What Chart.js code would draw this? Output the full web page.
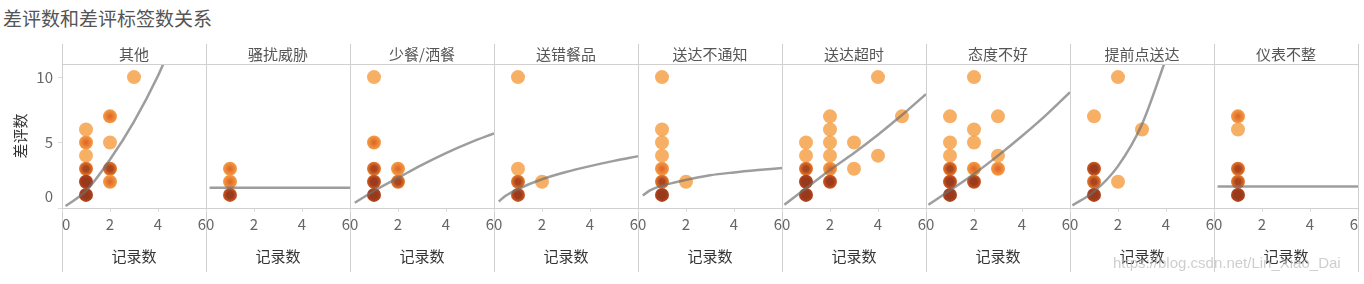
<!DOCTYPE html>
<html>
<head>
<meta charset="utf-8">
<script src="https://cdn.jsdelivr.net/npm/chart.js@4/dist/chart.umd.min.js"></script>
<style>
  body { margin: 0; background: #fff; width: 1364px; height: 284px; overflow: hidden; position: relative; font-family: "Noto Sans CJK SC", sans-serif; }
  #title { position: absolute; left: 3px; top: 6px; font-size: 19px; line-height: 24px; color: #555; }
  #mark { position: absolute; left: 1113px; top: 254px; font-family: "Liberation Sans", sans-serif; font-size: 15px; color: rgba(185,185,185,0.7); }
  .panel { position: absolute; top: 44px; }
  .divider { position: absolute; top: 44px; height: 228px; width: 1px; background: #d0d0d0; }
</style>
</head>
<body>
<div id="title">差评数和差评标签数关系</div>
<div id="wrap"></div>
<div id="mark">https://blog.csdn.net/Lin_Xiao_Dai</div>
<script>
const categories = ['其他', '骚扰威胁', '少餐/洒餐', '送错餐品', '送达不通知', '送达超时', '态度不好', '提前点送达', '仪表不整'];
const xTicks = [0, 2, 4, 6];
const yTicks = [0, 5, 10];

// 记录数 per point, one list per tag
const recordNum = [
  [1, 1, 1, 1, 1, 1, 2, 2, 2, 2, 3],
  [1, 1, 1],
  [1, 1, 1, 1, 1, 2, 2],
  [1, 1, 1, 1, 2],
  [1, 1, 1, 1, 1, 1, 1, 2],
  [1, 1, 1, 1, 1, 2, 2, 2, 2, 2, 2, 3, 3, 4, 4, 5],
  [1, 1, 1, 1, 1, 1, 2, 2, 2, 2, 2, 3, 3, 3],
  [1, 1, 1, 1, 2, 2, 3],
  [1, 1, 1, 1, 1]
];
// 差评数 per point
const badNum = [
  [6, 5, 4, 3, 2, 1, 7, 5, 3, 2, 10],
  [3, 2, 1],
  [10, 5, 3, 2, 1, 3, 2],
  [10, 3, 2, 1, 2],
  [10, 6, 5, 4, 3, 2, 1, 2],
  [5, 4, 3, 2, 1, 7, 6, 5, 4, 3, 2, 5, 3, 10, 4, 7],
  [7, 5, 4, 3, 2, 1, 10, 6, 5, 3, 2, 7, 4, 3],
  [7, 3, 2, 1, 10, 2, 6],
  [7, 6, 3, 2, 1]
];
// how many marks sit on top of each other (drives the colour)
const overlap = [
  [1, 2, 1, 3, 5, 6, 2, 1, 3, 2, 1],
  [2, 2, 4],
  [1, 2, 3, 4, 5, 2, 3],
  [1, 1, 3, 4, 1],
  [1, 1, 1, 1, 2, 3, 5, 1],
  [1, 1, 3, 5, 6, 1, 1, 1, 1, 2, 4, 1, 1, 1, 1, 1],
  [1, 1, 1, 3, 4, 6, 1, 1, 1, 2, 4, 1, 1, 2],
  [1, 4, 3, 5, 1, 1, 1],
  [2, 1, 3, 3, 5]
];

// trend lines
const trendX = [
  [0.15, 1, 2, 3, 4, 4.5],
  [0.15, 6],
  [0.2, 1, 2, 3, 4, 5, 6],
  [0.2, 0.5, 1, 2, 3, 4, 5, 6],
  [0.2, 0.5, 1, 2, 3, 4, 5, 6],
  [0.1, 1, 2, 3, 4, 5, 6],
  [0.1, 1, 2, 3, 4, 5, 6],
  [0.1, 1, 2, 3, 4],
  [0.15, 6]
];
const trendY = [
  [0.15, 1.3, 3.7, 6.6, 10.1, 12.2],
  [1.55, 1.55],
  [0.4, 1.3, 2.3, 3.3, 4.2, 5.0, 5.7],
  [0.5, 0.95, 1.45, 2.2, 2.75, 3.2, 3.6, 3.95],
  [0.95, 1.35, 1.7, 2.15, 2.5, 2.72, 2.9, 3.06],
  [0.25, 1.5, 2.9, 4.2, 5.6, 7.1, 8.7],
  [0.25, 1.35, 2.6, 4.0, 5.5, 7.1, 8.85],
  [0.2, 1.25, 3.2, 6.4, 11.4],
  [1.65, 1.65]
];

Chart.defaults.font.family = '"Noto Sans CJK SC", sans-serif';

// [centre, edge, where the centre colour stops]
const tones = {
  1: ['rgba(244,152,55,0.78)', 'rgba(244,155,60,0.78)', 0.3],
  2: ['rgb(226,106,40)', 'rgb(245,162,74)', 0.15],
  3: ['rgb(172,68,30)', 'rgb(238,132,48)', 0.35],
  4: ['rgb(156,58,28)', 'rgb(212,96,36)', 0.45],
  5: ['rgb(152,57,28)', 'rgb(182,70,30)', 0.5]
};

function pointFill(c) {
  if (c.type !== 'data' || !c.raw) return tones[1][0];
  const chart = c.chart;
  const t = tones[Math.min(c.raw.n, 5)];
  const px = chart.scales.x.getPixelForValue(c.raw.x);
  const py = chart.scales.y.getPixelForValue(c.raw.y);
  if (!isFinite(px) || !isFinite(py)) return t[1];
  const g = chart.ctx.createRadialGradient(px, py, 0, px, py, 7.5);
  g.addColorStop(0, t[0]);
  g.addColorStop(t[2], t[0]);
  g.addColorStop(1, t[1]);
  return g;
}

const topLine = {
  id: 'topLine',
  afterDraw(chart) {
    const {ctx, chartArea} = chart;
    ctx.save();
    ctx.strokeStyle = '#d0d0d0';
    ctx.lineWidth = 1;
    ctx.beginPath();
    ctx.moveTo(chartArea.left, chartArea.top + 0.5);
    ctx.lineTo(chart.width, chartArea.top + 0.5);
    ctx.stroke();
    ctx.restore();
  }
};

const wrap = document.getElementById('wrap');
for (let i = 0; i <= categories.length; i++) {
  const d = document.createElement('div');
  d.className = 'divider';
  d.style.left = (62 + 144 * i) + 'px';
  wrap.appendChild(d);
}

categories.forEach((name, i) => {
  const first = i === 0;
  const box = document.createElement('div');
  box.className = 'panel';
  box.style.left = (first ? 0 : 62 + 144 * i) + 'px';
  const canvas = document.createElement('canvas');
  canvas.width = first ? 206 : 144;
  canvas.height = 228;
  box.appendChild(canvas);
  wrap.appendChild(box);

  const points = recordNum[i].map((x, k) => ({x: x, y: badNum[i][k], n: overlap[i][k]}));
  const trend = trendX[i].map((x, k) => ({x: x, y: trendY[i][k]}));

  new Chart(canvas, {
    type: 'scatter',
    data: {
      datasets: [{
        type: 'line',
        data: trend,
        borderColor: 'rgba(110,110,110,0.68)',
        borderWidth: 2.5,
        pointRadius: 0,
        cubicInterpolationMode: 'monotone',
        fill: false,
        order: 0
      }, {
        data: points,
        pointRadius: 7,
        backgroundColor: pointFill,
        borderWidth: 0,
        order: 1
      }]
    },
    options: {
      responsive: false,
      animation: false,
      events: [],
      layout: {padding: 0, autoPadding: false},
      plugins: {
        legend: {display: false},
        tooltip: {enabled: false},
        title: {
          display: true, text: name, fullSize: false, color: '#555',
          font: {size: 15, weight: 'normal'}, padding: {top: 1, bottom: 1}
        }
      },
      scales: {
        x: {
          type: 'linear', min: 0, max: 6,
          afterBuildTicks: s => { s.ticks = xTicks.map(v => ({value: v})); },
          ticks: {align: 'inner', color: '#666', font: {size: 15}, padding: 3, maxRotation: 0, autoSkip: false},
          grid: {drawOnChartArea: false, tickLength: 4, color: '#ddd'},
          border: {color: '#d0d0d0'},
          title: {display: true, text: '记录数', color: '#333', font: {size: 15}, padding: {top: 0, bottom: 7}},
          afterFit: s => { s.height = 64; s.paddingLeft = 0; s.paddingRight = 0; }
        },
        y: {
          type: 'linear', min: 0, max: 11, display: first,
          afterBuildTicks: s => { s.ticks = yTicks.map(v => ({value: v})); },
          ticks: {
            color: '#666', font: {size: 15, lineHeight: 1.5}, padding: 5,
            callback: v => v === 0 ? ['0', ''] : String(v)
          },
          grid: {drawOnChartArea: false, tickLength: 4, color: '#ddd'},
          border: {display: false},
          title: {display: true, text: '差评数', color: '#333', font: {size: 15}, padding: {top: 11, bottom: 0}},
          afterFit: s => { s.width = first ? 62 : 0; s.paddingTop = 0; s.paddingBottom = 0; }
        }
      }
    },
    plugins: [topLine]
  });
});
</script>
</body>
</html>
